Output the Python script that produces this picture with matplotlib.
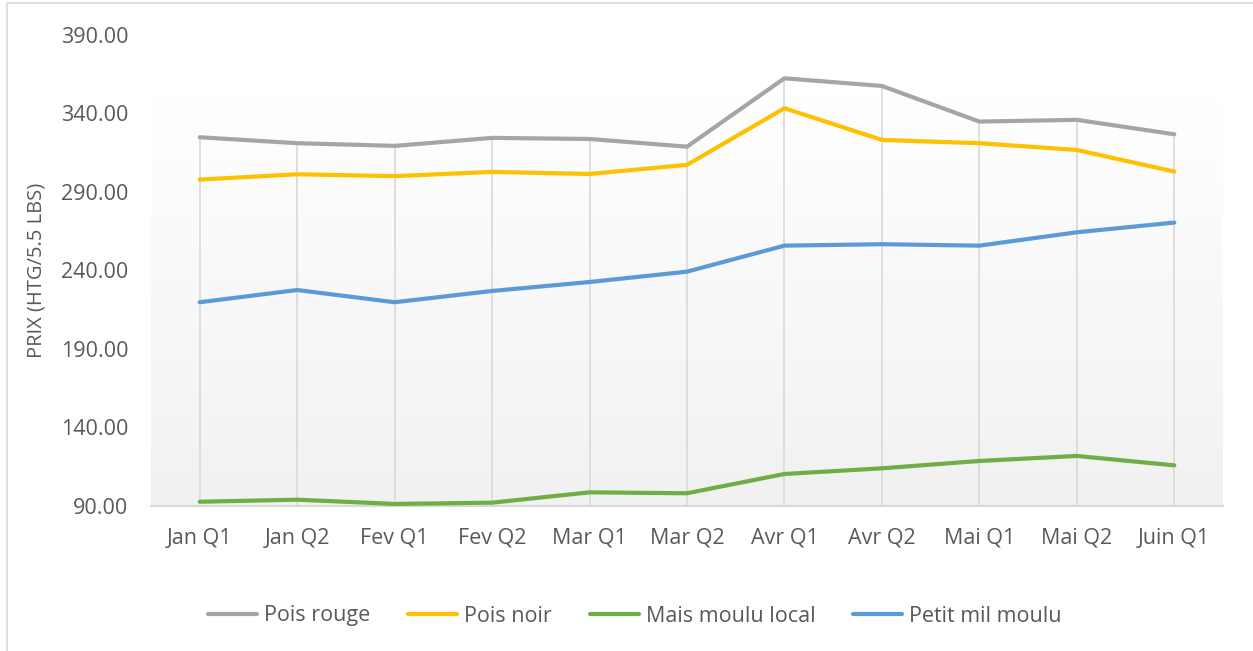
import matplotlib
matplotlib.use("Agg")
import matplotlib.pyplot as plt
import numpy as np
from matplotlib.lines import Line2D
from matplotlib.patches import Rectangle

categories = ["Jan Q1", "Jan Q2", "Fev Q1", "Fev Q2", "Mar Q1", "Mar Q2",
              "Avr Q1", "Avr Q2", "Mai Q1", "Mai Q2", "Juin Q1"]
pois_rouge = [324.8, 321.0, 319.3, 324.4, 323.7, 318.8, 362.4, 357.5, 334.8, 335.9, 326.7]
pois_noir = [297.8, 301.2, 300.0, 302.7, 301.4, 307.2, 343.3, 323.1, 321.0, 316.7, 302.9]
mais_moulu = [92.4, 93.7, 91.0, 91.8, 98.4, 97.8, 110.1, 113.7, 118.4, 121.6, 115.6]
petit_mil = [219.6, 227.4, 219.6, 226.8, 232.5, 239.1, 255.7, 256.6, 255.7, 264.2, 270.4]
series_names = ["Pois rouge", "Pois noir", "Mais moulu local", "Petit mil moulu"]
series_values = [pois_rouge, pois_noir, mais_moulu, petit_mil]
yticks = [90, 140, 190, 240, 290, 340, 390]

colors = ["#A5A5A5", "#FFC000", "#70AD47", "#5B9BD5"]
txt = "#595959"
font = "Open Sans"
fs = 15.5

W, H = 1253, 651
fig = plt.figure(figsize=(W / 100, H / 100), dpi=100)
fig.patch.set_facecolor("white")
# outer chart border (left/top visible)
fig.add_artist(Rectangle((7 / W, -0.1), 1.2, (H - 3) / H + 0.1,
                         transform=fig.transFigure, fill=False,
                         edgecolor="#D9D9D9", linewidth=1.2))

l, r, t, b = 151, 1223, 35, 505.5
ax = fig.add_axes([l / W, 1 - b / H, (r - l) / W, (b - t) / H])
ax.set_facecolor("white")
x = np.arange(len(categories))
ax.set_xlim(-0.5, len(categories) - 0.5)
ax.set_ylim(90, 390)

# gradient background
grad = np.linspace(0, 1, 256).reshape(-1, 1)
c_top = np.array([1.0, 1.0, 1.0])
c_bot = np.array([0xF1, 0xF1, 0xF1]) / 255
img = c_bot[None, None, :] * (1 - grad[..., None]) + c_top[None, None, :] * grad[..., None]
ax.imshow(img, extent=(-0.5, len(categories) - 0.5, 90, 350), origin="lower",
          aspect="auto", zorder=0)

# drop lines from the highest series to the axis
tops = np.max(np.array(series_values), axis=0)
ax.vlines(x, 90, tops, color="#D9D9D9", lw=1.2, zorder=1)

for name, vals, c in zip(series_names, series_values, colors):
    ax.plot(x, vals, color=c, lw=3.0, solid_capstyle="round",
            solid_joinstyle="round", zorder=3, label=name)

for s in ["top", "right", "left"]:
    ax.spines[s].set_visible(False)
ax.spines["bottom"].set_color("#D9D9D9")
ax.spines["bottom"].set_linewidth(1.5)

ax.set_xticks(x)
ax.set_xticklabels(categories, fontsize=fs, color=txt, family=font)
ax.set_yticks(yticks)
ax.set_yticklabels([f"{v:.2f}" for v in yticks], fontsize=fs, color=txt, family=font)
ax.tick_params(axis="both", length=0)
ax.tick_params(axis="x", pad=16)
ax.tick_params(axis="y", pad=16.5)

fig.text(37 / W, 1 - 270 / H, "PRIX (HTG/5.5 LBS)", rotation=90, ha="center",
         va="center", fontsize=14.5, color=txt, family=font)

handles = [Line2D([0], [0], color=c, lw=3.0, solid_capstyle="round") for c in colors]
leg = fig.legend(handles, series_names, loc="center", bbox_to_anchor=(635 / W, 1 - 616 / H),
                 ncol=4, frameon=False, handlelength=2.27, handletextpad=0.33,
                 columnspacing=1.75, prop={"family": font, "size": fs})
for tx in leg.get_texts():
    tx.set_color(txt)

fig.savefig("out.png", dpi=100, facecolor="white")
